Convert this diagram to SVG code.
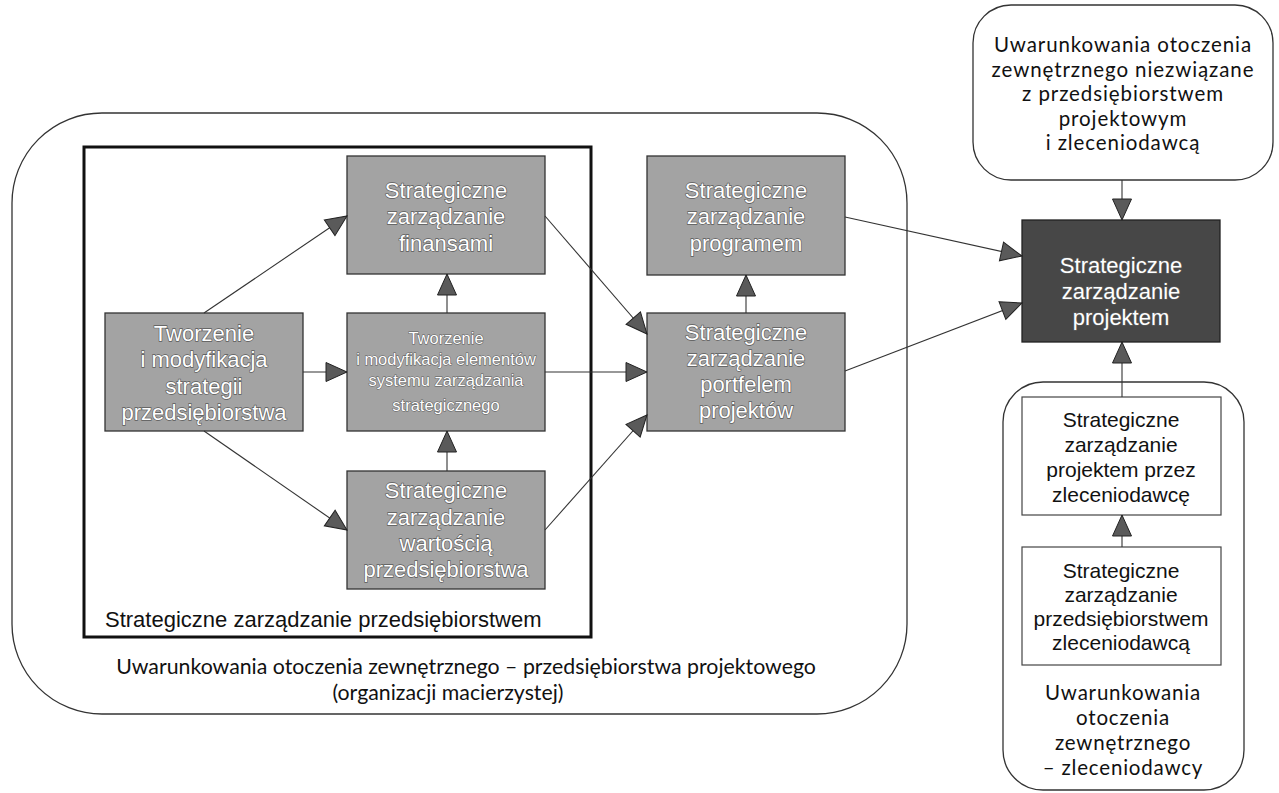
<svg xmlns="http://www.w3.org/2000/svg" width="1279" height="793" viewBox="0 0 1279 793">
<style>
.env{fill:#fff;stroke:#333;stroke-width:1.3}
.gbox{fill:#a3a3a3;stroke:#333;stroke-width:1.3}
.dbox{fill:#474747;stroke:#222;stroke-width:1.3}
.wbox{fill:#fff;stroke:#444;stroke-width:1.2}
.gt{font-family:"Liberation Sans",Arial,sans-serif;font-size:22px;fill:#fff;stroke:#5a5a5a;stroke-width:1.3;paint-order:stroke;text-anchor:middle}
.gs{font-family:"Liberation Sans",Arial,sans-serif;font-size:16.5px;fill:#fff;stroke:#5a5a5a;stroke-width:1;paint-order:stroke;text-anchor:middle}
.bt{font-family:"Liberation Sans",Arial,sans-serif;font-size:21px;fill:#111;text-anchor:middle}
.mt{font-family:Lato,"Open Sans",sans-serif;font-size:20.5px;fill:#111;text-anchor:middle}
.conn line{stroke:#333;stroke-width:1.1;marker-end:url(#ah)}
</style>
<defs>
<marker id="ah" markerUnits="userSpaceOnUse" markerWidth="24" markerHeight="22" refX="21" refY="9.5" orient="auto" viewBox="-1 -1 24 21">
<path d="M0,0 L21,9.5 L0,19 Z" fill="#5a5a5a" stroke="#222" stroke-width="1"/>
</marker>
</defs>

<g id="env-project">
<rect class="env" x="12" y="113" width="895" height="601" rx="90" ry="90"/>
<text class="mt" x="466" y="674" style="font-size:21.3px">Uwarunkowania otoczenia zewnętrznego – przedsiębiorstwa projektowego</text>
<text class="mt" x="448" y="700" style="font-size:21.3px">(organizacji macierzystej)</text>
</g>

<g id="enterprise">
<rect x="84" y="147" width="507" height="490" fill="#fff" stroke="#111" stroke-width="3"/>
<text class="bt" x="105" y="627" style="text-anchor:start;font-size:22px">Strategiczne zarządzanie przedsiębiorstwem</text>
</g>

<g id="env-external">
<rect class="env" x="973" y="5" width="300" height="175" rx="38" ry="38"/>
<text class="mt" x="1123" y="52" style="letter-spacing:0.9px">Uwarunkowania otoczenia</text>
<text class="mt" x="1123" y="76.6" style="letter-spacing:0.9px">zewnętrznego niezwiązane</text>
<text class="mt" x="1123" y="101.2" style="letter-spacing:0.9px">z przedsiębiorstwem</text>
<text class="mt" x="1123" y="125.8" style="letter-spacing:0.9px">projektowym</text>
<text class="mt" x="1123" y="150.4" style="letter-spacing:0.9px">i zleceniodawcą</text>
</g>

<g id="env-client">
<rect class="env" x="1003" y="382" width="241" height="408" rx="40" ry="40"/>
<text class="mt" x="1123" y="700" style="letter-spacing:0.8px">Uwarunkowania</text>
<text class="mt" x="1123" y="725" style="letter-spacing:0.8px">otoczenia</text>
<text class="mt" x="1123" y="750" style="letter-spacing:0.8px">zewnętrznego</text>
<text class="mt" x="1123" y="775" style="letter-spacing:0.8px">– zleceniodawcy</text>
</g>

<g id="n-strategia">
<rect class="gbox" x="105" y="313" width="198" height="118"/>
<text class="gt" x="204" y="341">Tworzenie</text>
<text class="gt" x="204" y="367">i modyfikacja</text>
<text class="gt" x="204" y="394">strategii</text>
<text class="gt" x="204" y="420">przedsiębiorstwa</text>
</g>

<g id="n-finanse">
<rect class="gbox" x="347" y="156" width="198" height="118"/>
<text class="gt" x="446" y="198">Strategiczne</text>
<text class="gt" x="446" y="224">zarządzanie</text>
<text class="gt" x="446" y="251">finansami</text>
</g>

<g id="n-system">
<rect class="gbox" x="347" y="313" width="198" height="118"/>
<text class="gs" x="446" y="344">Tworzenie</text>
<text class="gs" x="446" y="365">i modyfikacja elementów</text>
<text class="gs" x="446" y="386">systemu  zarządzania</text>
<text class="gs" x="446" y="411">strategicznego</text>
</g>

<g id="n-wartosc">
<rect class="gbox" x="347" y="471" width="198" height="118"/>
<text class="gt" x="446" y="498">Strategiczne</text>
<text class="gt" x="446" y="525">zarządzanie</text>
<text class="gt" x="446" y="551">wartością</text>
<text class="gt" x="446" y="577">przedsiębiorstwa</text>
</g>

<g id="n-program">
<rect class="gbox" x="647" y="156" width="198" height="119"/>
<text class="gt" x="746" y="198">Strategiczne</text>
<text class="gt" x="746" y="224">zarządzanie</text>
<text class="gt" x="746" y="251">programem</text>
</g>

<g id="n-portfel">
<rect class="gbox" x="647" y="313" width="198" height="118"/>
<text class="gt" x="746" y="340">Strategiczne</text>
<text class="gt" x="746" y="366">zarządzanie</text>
<text class="gt" x="746" y="392">portfelem</text>
<text class="gt" x="746" y="418">projektów</text>
</g>

<g id="n-projekt">
<rect class="dbox" x="1022" y="220" width="198" height="122"/>
<text class="gt" x="1121" y="273">Strategiczne</text>
<text class="gt" x="1121" y="299">zarządzanie</text>
<text class="gt" x="1121" y="325">projektem</text>
</g>

<g id="n-zlecen-projekt">
<rect class="wbox" x="1022" y="397" width="199" height="118"/>
<text class="bt" x="1121" y="427">Strategiczne</text>
<text class="bt" x="1121" y="452">zarządzanie</text>
<text class="bt" x="1121" y="477">projektem przez</text>
<text class="bt" x="1121" y="502">zleceniodawcę</text>
</g>

<g id="n-zlecen-przeds">
<rect class="wbox" x="1022" y="547" width="199" height="118"/>
<text class="bt" x="1121" y="578">Strategiczne</text>
<text class="bt" x="1121" y="602">zarządzanie</text>
<text class="bt" x="1121" y="626">przedsiębiorstwem</text>
<text class="bt" x="1121" y="650">zleceniodawcą</text>
</g>

<g id="connectors" class="conn">
<line x1="204" y1="313" x2="347" y2="216"/>
<line x1="303" y1="372" x2="347" y2="372"/>
<line x1="204" y1="431" x2="347" y2="530"/>
<line x1="447" y1="313" x2="447" y2="274"/>
<line x1="447" y1="471" x2="447" y2="431"/>
<line x1="545" y1="216" x2="647" y2="334"/>
<line x1="545" y1="372" x2="647" y2="372"/>
<line x1="545" y1="530" x2="647" y2="415"/>
<line x1="746" y1="313" x2="746" y2="275"/>
<line x1="845" y1="217" x2="1022" y2="256"/>
<line x1="845" y1="371" x2="1022" y2="303"/>
<line x1="1122" y1="180" x2="1122" y2="220"/>
<line x1="1122" y1="397" x2="1122" y2="342"/>
<line x1="1122" y1="547" x2="1122" y2="515"/>
</g>
</svg>
